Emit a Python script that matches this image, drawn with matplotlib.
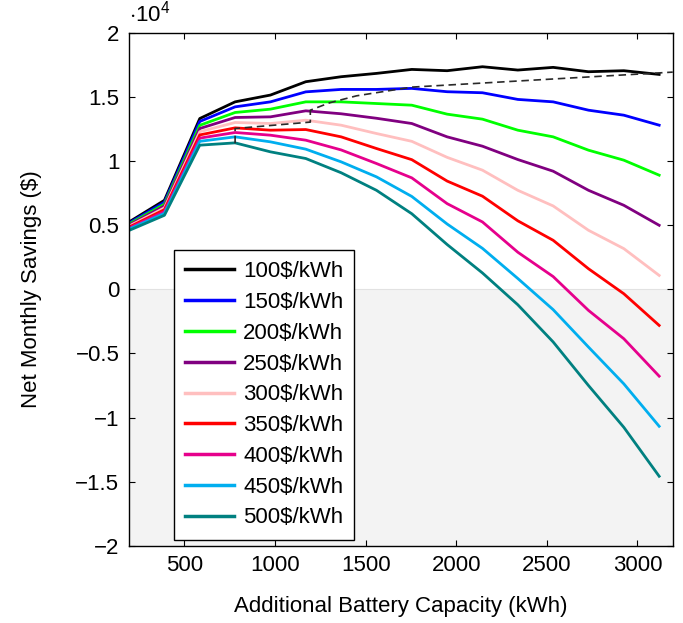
## net monthly savings vs additional battery capacity, one line per battery price
import numpy as np
import matplotlib
matplotlib.use('Agg')
import matplotlib.pyplot as plt
from matplotlib.ticker import FuncFormatter

plt.rcParams['font.family'] = ['Liberation Sans', 'DejaVu Sans']
plt.rcParams['mathtext.fontset'] = 'custom'
plt.rcParams['mathtext.rm'] = 'Liberation Sans'
plt.rcParams['font.size'] = 16

## ------------ data (savings in units of 1e4 $) ----------------------
capacity = [195, 390, 585, 780, 975, 1170, 1365, 1560,
            1755, 1950, 2145, 2340, 2535, 2730, 2925, 3120]

price_labels = ['100$/kWh', '150$/kWh', '200$/kWh', '250$/kWh', '300$/kWh',
                '350$/kWh', '400$/kWh', '450$/kWh', '500$/kWh']

sav_100 = [0.526, 0.695, 1.333, 1.463, 1.516, 1.620, 1.659, 1.685, 1.716, 1.706, 1.737, 1.711, 1.732, 1.698, 1.706, 1.677]
sav_150 = [0.518, 0.680, 1.310, 1.424, 1.463, 1.541, 1.560, 1.560, 1.568, 1.542, 1.534, 1.482, 1.463, 1.398, 1.359, 1.281]
sav_200 = [0.510, 0.665, 1.280, 1.380, 1.406, 1.463, 1.463, 1.450, 1.437, 1.367, 1.328, 1.242, 1.190, 1.086, 1.008, 0.891]
sav_250 = [0.502, 0.651, 1.255, 1.341, 1.346, 1.393, 1.370, 1.335, 1.294, 1.190, 1.117, 1.013, 0.922, 0.773, 0.656, 0.500]
sav_300 = [0.494, 0.636, 1.230, 1.302, 1.294, 1.320, 1.281, 1.216, 1.155, 1.030, 0.930, 0.773, 0.651, 0.461, 0.318, 0.109]
sav_350 = [0.486, 0.622, 1.205, 1.260, 1.242, 1.247, 1.190, 1.099, 1.012, 0.845, 0.727, 0.535, 0.383, 0.161, -0.034, -0.281]
sav_400 = [0.478, 0.607, 1.180, 1.224, 1.203, 1.164, 1.088, 0.982, 0.870, 0.669, 0.526, 0.290, 0.100, -0.164, -0.385, -0.677]
sav_450 = [0.470, 0.593, 1.155, 1.190, 1.151, 1.094, 0.995, 0.878, 0.725, 0.510, 0.320, 0.085, -0.158, -0.450, -0.737, -1.068]
sav_500 = [0.460, 0.578, 1.125, 1.143, 1.073, 1.021, 0.910, 0.773, 0.590, 0.350, 0.128, -0.120, -0.410, -0.750, -1.076, -1.458]

## dashed guide line (best capacity per price), vertices
best_x = [780, 780, 1195, 1195, 1300, 1450, 1755, 3195]
best_y = [1.140, 1.255, 1.305, 1.398, 1.455, 1.510, 1.578, 1.695]
## ---------------------------------------------------------------------

all_savings = [sav_100, sav_150, sav_200, sav_250, sav_300,
               sav_350, sav_400, sav_450, sav_500]
line_colors = ['black', '#0000ff', '#00ff00', '#800080', '#ffbfbf',
               '#ff0000', '#e6008c', '#00aeef', '#008080']

fig = plt.figure(figsize=(6.83, 6.23), dpi=100)
ax = fig.add_axes([0.189, 0.124, 0.796, 0.823])

ax.axhspan(-2, 0, facecolor='#f3f3f3', edgecolor='#e2e2e2', linewidth=0.8, zorder=0)

for sav, clr, lbl in zip(all_savings, line_colors, price_labels):
    ax.plot(capacity, sav, color=clr, lw=2.0, label=lbl, zorder=2)

ax.plot(best_x, best_y, color='#2a2a2a', lw=1.2, dashes=(4.5, 2.8), zorder=3)

ax.set_xlim(195, 3195)
ax.set_ylim(-2, 2)
ax.set_xticks([500, 1000, 1500, 2000, 2500, 3000])
ax.set_yticks(np.arange(-2, 2.01, 0.5))
ax.yaxis.set_major_formatter(FuncFormatter(lambda v, p: f'{v:g}'.replace('-', '\u2212')))
ax.tick_params(direction='in', top=True, right=True, length=4.5, width=0.8, labelsize=16)
ax.tick_params(axis='y', pad=7)
ax.tick_params(axis='x', pad=7)
for sp in ax.spines.values():
    sp.set_linewidth(1.0)

ax.text(0.0, 1.012, r'$\cdot 10^{4}$', transform=ax.transAxes, ha='left', va='bottom', fontsize=16)

ax.set_xlabel('Additional Battery Capacity (kWh)', labelpad=14)
ax.set_ylabel('Net Monthly Savings ($)', labelpad=24)

leg = ax.legend(loc='lower left', bbox_to_anchor=(0.083, 0.012), frameon=True,
                fancybox=False, edgecolor='black', framealpha=1.0,
                handlelength=2.2, handletextpad=0.4, labelspacing=0.44,
                borderpad=0.5, borderaxespad=0.0, fontsize=16)
leg.get_frame().set_linewidth(1.0)
for h in leg.get_lines():
    h.set_linewidth(2.5)

fig.savefig('out.png', dpi=100)
